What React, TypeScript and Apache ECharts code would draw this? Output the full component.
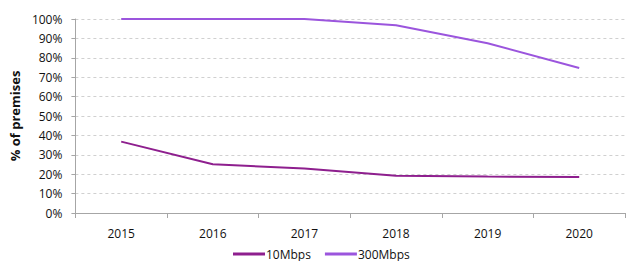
import React, { useEffect, useRef } from "react";
import * as echarts from "echarts";

const years = ["2015", "2016", "2017", "2018", "2019", "2020"];
const mbps10 = [36.8, 25.1, 23.0, 19.2, 18.8, 18.5];
const mbps300 = [100, 100, 100, 96.8, 87.5, 74.7];
const seriesNames = ["10Mbps", "300Mbps"];

export default function App() {
  const ref = useRef<HTMLDivElement>(null);
  useEffect(() => {
    if (!ref.current) return;
    const chart = echarts.init(ref.current, null, { renderer: "svg" });
    const font = "'Open Sans', 'Liberation Sans', sans-serif";
    chart.setOption({
      animation: false,
      grid: { left: 71, right: 5, top: 19, bottom: 48 },
      legend: {
        bottom: -4,
        left: 228,
        itemGap: 14,
        itemWidth: 32,
        itemHeight: 3,
        textStyle: { fontFamily: font, fontSize: 12, color: "#111", padding: [0, 0, 0, -4] },
        data: seriesNames.map((n) => ({ name: n, icon: "rect" })),
      },
      xAxis: {
        type: "category",
        data: years,
        boundaryGap: true,
        axisLine: { lineStyle: { color: "#a6a6a6", width: 1 } },
        axisTick: { show: true, length: 5, lineStyle: { color: "#a6a6a6" } },
        axisLabel: { fontFamily: font, fontSize: 12, color: "#111", margin: 14 },
      },
      yAxis: {
        type: "value",
        min: 0,
        max: 100,
        interval: 10,
        name: "% of premises",
        nameLocation: "middle",
        nameGap: 48,
        nameRotate: 90,
        nameTextStyle: { fontFamily: font, fontSize: 13, fontWeight: "bold", color: "#111" },
        axisLine: { show: true, lineStyle: { color: "#a6a6a6" } },
        axisTick: { show: true, length: 4, lineStyle: { color: "#a6a6a6" } },
        axisLabel: { fontFamily: font, fontSize: 12, color: "#111", formatter: "{value}%", margin: 13 },
        splitLine: { lineStyle: { color: "#d0d0d0", type: [3, 3] } },
      },
      series: [
        {
          name: seriesNames[0],
          type: "line",
          data: mbps10,
          symbol: "none",
          lineStyle: { color: "#8e1f8e", width: 2 },
          itemStyle: { color: "#8e1f8e" },
        },
        {
          name: seriesNames[1],
          type: "line",
          data: mbps300,
          symbol: "none",
          lineStyle: { color: "#9b55dd", width: 2 },
          itemStyle: { color: "#9b55dd" },
        },
      ],
    });
    return () => chart.dispose();
  }, []);
  return (
    <div
      ref={ref}
      style={{ position: "fixed", left: 0, top: 0, width: 630, height: 261, background: "#fff" }}
    />
  );
}
